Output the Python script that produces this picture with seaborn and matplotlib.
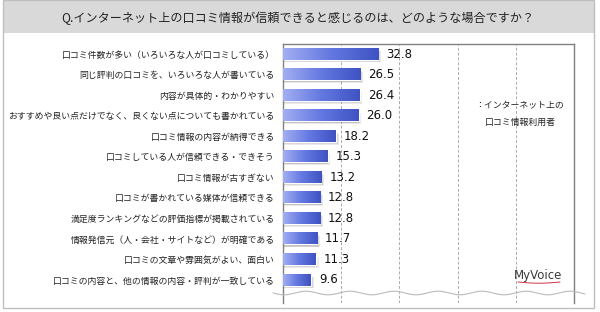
import numpy as np
import pandas as pd
import matplotlib
matplotlib.use("Agg")
import matplotlib.pyplot as plt
import seaborn as sns
from matplotlib.colors import LinearSegmentedColormap
from matplotlib.patches import Rectangle

title = "Q.インターネット上の口コミ情報が信頼できると感じるのは、どのような場合ですか？"
categories = [
    "口コミ件数が多い（いろいろな人が口コミしている）",
    "同じ評判の口コミを、いろいろな人が書いている",
    "内容が具体的・わかりやすい",
    "おすすめや良い点だけでなく、良くない点についても書かれている",
    "口コミ情報の内容が納得できる",
    "口コミしている人が信頼できる・できそう",
    "口コミ情報が古すぎない",
    "口コミが書かれている媒体が信頼できる",
    "満足度ランキングなどの評価指標が掲載されている",
    "情報発信元（人・会社・サイトなど）が明確である",
    "口コミの文章や雰囲気がよい、面白い",
    "口コミの内容と、他の情報の内容・評判が一致している",
]
values = [32.8, 26.5, 26.4, 26.0, 18.2, 15.3, 13.2, 12.8, 12.8, 11.7, 11.3, 9.6]
legend_lines = ["：インターネット上の", "口コミ情報利用者"]

sns.set_theme(style="white")
plt.rcParams['font.family'] = ['Noto Sans CJK JP', 'DejaVu Sans']

W, H = 600, 312
fig = plt.figure(figsize=(W / 100, H / 100), dpi=100)

def px(x, y):
    return x / W, 1 - y / H

fig.patches.append(Rectangle(px(3, 33), 591 / W, 33 / H, transform=fig.transFigure,
                             facecolor="#D9D9D9", edgecolor="none", zorder=0))
fig.patches.append(Rectangle(px(3, 308), 591 / W, 308 / H, transform=fig.transFigure,
                             facecolor="none", edgecolor="#BFBFBF", lw=1, zorder=1))
fig.text(298 / W, 1 - 18 / H, title, ha="center", va="center", fontsize=8.7, color="#222222")

left, right, top, bottom = 283, 574, 44, 303
ax = fig.add_axes([left / W, 1 - bottom / H, (right - left) / W, (bottom - top) / H])

df = pd.DataFrame({"cat": categories, "val": values})
sns.barplot(data=df, x="val", y="cat", orient="h", ax=ax, color="#5A6FD8",
            width=0.54, saturation=1)

ax.set_xlim(0, 100)
ax.set_ylim(12.12, -0.49)
ax.set_xlabel("")
ax.set_ylabel("")
ax.set_xticks([20, 40, 60, 80])
ax.set_xticklabels([])
ax.tick_params(axis="x", length=0)
ax.tick_params(axis="y", length=0, pad=6, labelsize=6.4, labelcolor="#222222")
ax.grid(axis="x", color="#AAAAAA", linestyle=(0, (3, 2)), lw=0.7)
ax.set_axisbelow(True)
for s in ["left", "right", "top"]:
    ax.spines[s].set_color("#808080")
    ax.spines[s].set_linewidth(1)
ax.spines["bottom"].set_visible(False)

cmap = LinearSegmentedColormap.from_list("g", ["#A3AEF2", "#6378E0", "#3E52C2"])
grad = np.linspace(0, 1, 256).reshape(1, -1)
for p, v in zip(ax.patches, values):
    x0, y0 = p.get_x(), p.get_y()
    w, h = p.get_width(), p.get_height()
    for k, a in [(1.0, 0.12), (0.6, 0.18), (0.3, 0.22)]:
        ax.add_patch(Rectangle((0, y0 + 0.10 * k + 0.04), w + 0.9 * k, h, facecolor="#555555",
                               edgecolor="none", alpha=a, zorder=1.5))
    p.set_zorder(2)
    ax.imshow(grad, extent=[x0, x0 + w, y0 + h, y0], aspect="auto", cmap=cmap,
              zorder=3, interpolation="bicubic")
    ax.text(w + 2.7, y0 + h / 2, f"{v:.1f}", ha="left", va="center",
            fontsize=8.5, color="#111111", family="DejaVu Sans", zorder=4)
ax.set_xlim(0, 100)
ax.set_ylim(12.12, -0.49)

fig.text(520 / W, 1 - 105 / H, legend_lines[0], ha="center", va="center", fontsize=6.4, color="#222222")
fig.text(520 / W, 1 - 122 / H, legend_lines[1], ha="center", va="center", fontsize=6.4, color="#222222")

# MyVoice logo
fig.text(538 / W, 1 - 275 / H, "MyVoice", ha="center", va="center", fontsize=8.5,
         color="#3A3A3A", family="DejaVu Sans Condensed")
lx = np.linspace(518, 560, 50)
ly = 282 + 1.2 * np.sin((lx - 518) / 42 * np.pi)
fig.lines.append(plt.Line2D(lx / W, 1 - ly / H, transform=fig.transFigure, color="#CC3344", lw=0.7))

# wavy break line
wx = np.linspace(273, 585, 400)
wy = 293 + 1.8 * np.sin((wx - 273) / 44 * 2 * np.pi)
fig.lines.append(plt.Line2D(wx / W, 1 - wy / H, transform=fig.transFigure, color="#BBBBBB", lw=0.8))

fig.savefig("out.png", dpi=100)
